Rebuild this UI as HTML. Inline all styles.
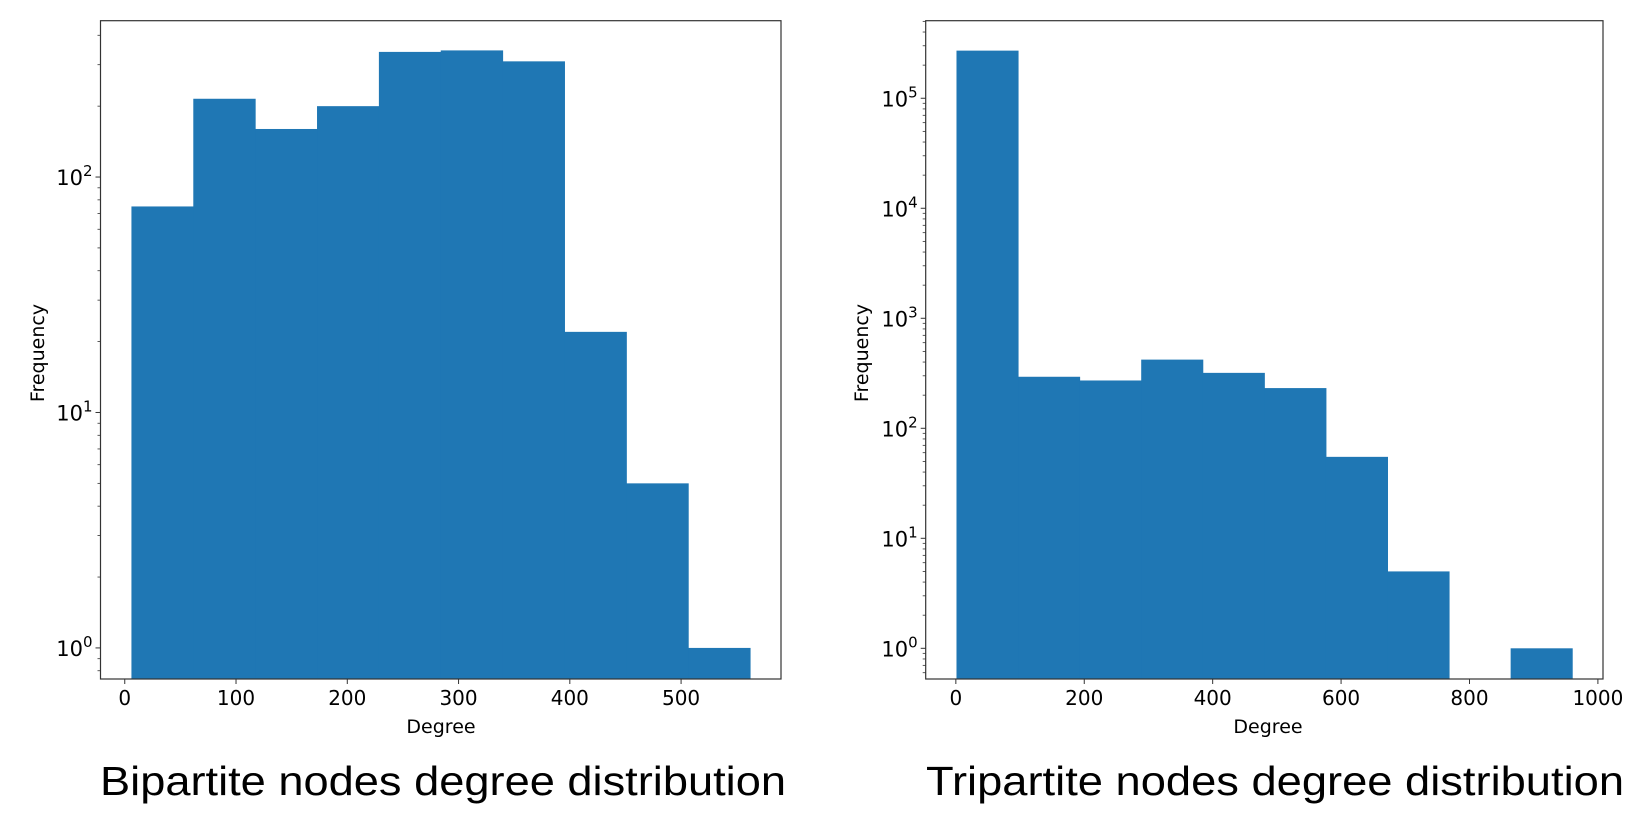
<!DOCTYPE html>
<html><head><meta charset="utf-8"><style>
html,body{margin:0;padding:0;background:#fff;}
svg{display:block;font-family:"DejaVu Sans","Liberation Sans",sans-serif;}
</style></head><body>
<svg id="svg" width="1650" height="822" viewBox="0 0 1650 822" xmlns="http://www.w3.org/2000/svg">
<g id="left"></g>
<g id="right"></g>
<text x="443" y="795" text-anchor="middle" font-family="Liberation Sans, sans-serif" font-size="41" textLength="686" lengthAdjust="spacingAndGlyphs">Bipartite nodes degree distribution</text>
<text x="1275" y="795" text-anchor="middle" font-family="Liberation Sans, sans-serif" font-size="41" textLength="698" lengthAdjust="spacingAndGlyphs">Tripartite nodes degree distribution</text>
</svg>
<script>
// Bipartite data
const leftEdgeStart = 6;
const leftEdgeEnd = 562;
const leftCounts = [75, 215, 160, 200, 340, 345, 310, 22, 5, 1];
const leftXTicks = [0, 100, 200, 300, 400, 500];
const leftYDecades = [0, 1, 2];
// Tripartite data
const rightEdgeStart = 1;
const rightEdgeEnd = 960;
const rightCounts = [271000, 294, 272, 421, 319, 232, 55, 5, 0, 1];
const rightXTicks = [0, 200, 400, 600, 800, 1000];
const rightYDecades = [0, 1, 2, 3, 4, 5];

const NS = "http://www.w3.org/2000/svg";
function mk(parent, tag, attrs, text) {
  const e = document.createElementNS(NS, tag);
  for (const k in attrs) e.setAttribute(k, attrs[k]);
  if (text !== undefined) e.textContent = text;
  parent.appendChild(e);
  return e;
}

function drawChart(g, cfg) {
  const {px0, px1, py0, py1, xmin, xmax, lmin, lmax, edgeStart, edgeEnd, counts, xTicks, yDecades, ylabX, xlabX} = cfg;
  const xs = v => px0 + (v - xmin) / (xmax - xmin) * (px1 - px0);
  const ys = v => py1 - (Math.log10(v) - lmin) / (lmax - lmin) * (py1 - py0);
  const n = counts.length;
  const w = (edgeEnd - edgeStart) / n;
  counts.forEach((c, i) => {
    if (c <= 0) return;
    const x0 = xs(edgeStart + i * w), x1 = xs(edgeStart + (i + 1) * w);
    const y = ys(c);
    const r = mk(g, "rect", {x: x0, y: y, width: x1 - x0 + 0.5, height: py1 - y, fill: "#1f77b4"});
    
    
  });
  const frame = mk(g, "rect", {x: px0, y: py0, width: px1 - px0, height: py1 - py0, fill: "none", stroke: "#333", "stroke-width": 1.2});
  
  
  xTicks.forEach(t => {
    const x = xs(t);
    mk(g, "line", {x1: x, x2: x, y1: py1, y2: py1 + 5, stroke: "#333", "stroke-width": 1});
    const tl = mk(g, "text", {x: x, y: py1 + 26, "text-anchor": "middle", "font-size": 20}, String(t));
    
    
  });
  for (let d = Math.floor(lmin); d <= Math.ceil(lmax); d++) {
    for (let m = 1; m <= 9; m++) {
      const v = m * Math.pow(10, d);
      const lv = Math.log10(v);
      if (lv < lmin || lv > lmax) continue;
      const y = ys(v);
      mk(g, "line", {x1: px0, x2: px0 - (m === 1 ? 5 : 3), y1: y, y2: y, stroke: "#333", "stroke-width": m === 1 ? 1 : 0.8});
    }
  }
  yDecades.forEach(d => {
    const y = ys(Math.pow(10, d));
    const t = mk(g, "text", {x: px0 - 8, y: y + 8, "text-anchor": "end", "font-size": 21});
    
    
    mk(t, "tspan", {}, "10");
    mk(t, "tspan", {dy: -9, "font-size": 15}, String(d));
  });
  const xl = mk(g, "text", {x: xlabX, y: py1 + 54, "text-anchor": "middle", "font-size": 19}, "Degree");
  
  
  const yl = mk(g, "text", {x: 0, y: 0, "text-anchor": "middle", "font-size": 19, transform: `translate(${ylabX},353) rotate(-90)`}, "Frequency");
  
  
}

drawChart(document.getElementById("left"), {
  px0: 100.5, px1: 781, py0: 20.7, py1: 679,
  xmin: -21.8, xmax: 589.8, lmin: -0.132, lmax: 2.664,
  edgeStart: leftEdgeStart, edgeEnd: leftEdgeEnd, counts: leftCounts,
  xTicks: leftXTicks, yDecades: leftYDecades, ylabX: 44, xlabX: 441
});
drawChart(document.getElementById("right"), {
  px0: 925.7, px1: 1603, py0: 20.7, py1: 679,
  xmin: -46.95, xmax: 1007.95, lmin: -0.279, lmax: 5.705,
  edgeStart: rightEdgeStart, edgeEnd: rightEdgeEnd, counts: rightCounts,
  xTicks: rightXTicks, yDecades: rightYDecades, ylabX: 868, xlabX: 1268
});
</script>
</body></html>
